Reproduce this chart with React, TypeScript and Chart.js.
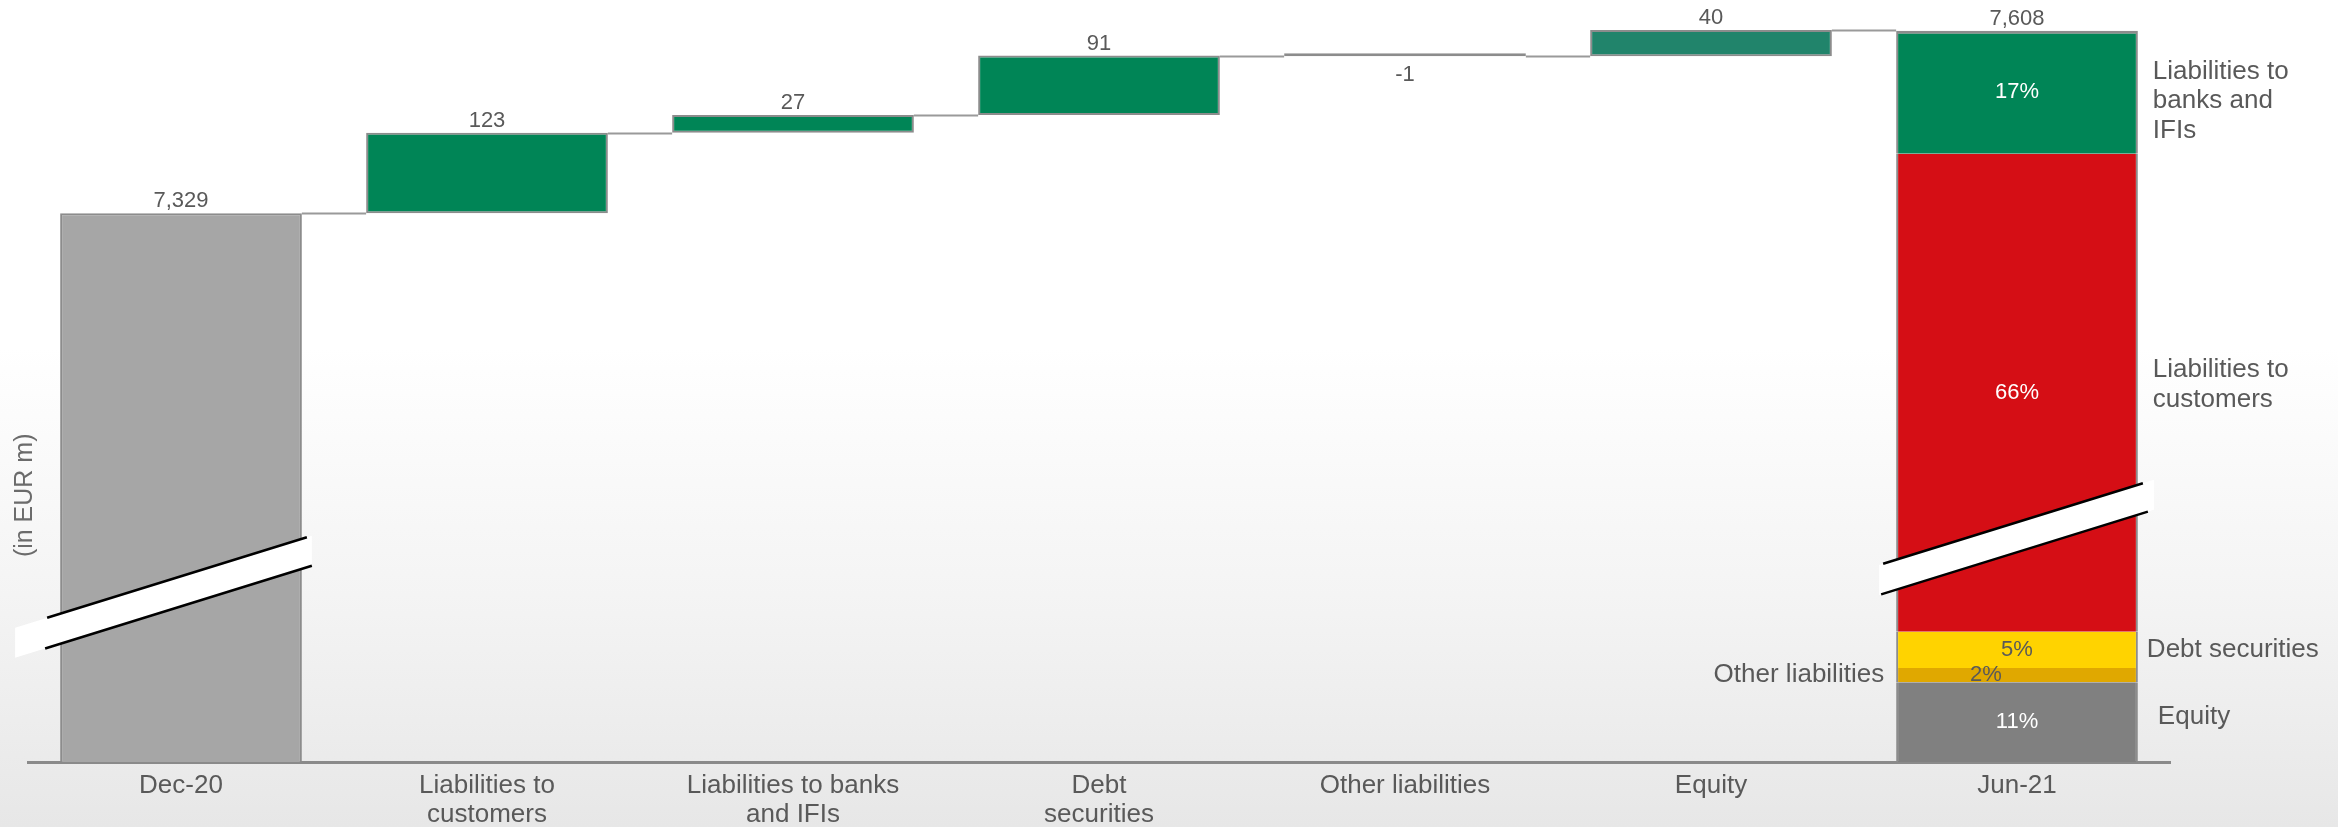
import React, { useEffect, useRef } from "react";
import { Chart, registerables } from "chart.js";

Chart.register(...registerables);

// ---------- data ----------
const categories: string[][] = [
  ["Dec-20"],
  ["Liabilities to", "customers"],
  ["Liabilities to banks", "and IFIs"],
  ["Debt", "securities"],
  ["Other liabilities"],
  ["Equity"],
  ["Jun-21"],
];
const startValue = 7329;
const deltaValues = [123, 27, 91, -1, 40];
const endValue = 7608;

const shareNames = ["Equity", "Other liabilities", "Debt securities", "Liabilities to customers", "Liabilities to banks and IFIs"];
const sharePercents = [11, 2, 5, 66, 17];
const shareSideLabels: string[][] = [
  ["Equity"],
  ["Other liabilities"],
  ["Debt securities"],
  ["Liabilities to", "customers"],
  ["Liabilities to", "banks and", "IFIs"],
];
const yTitle = "(in EUR m)";

// ---------- scale / style settings ----------
const axisMin = 6490;
const axisMax = 7655;
const FONT = "'Liberation Sans', Arial, sans-serif";
const TEXT = "#595959";
const BORDER = "#8c8c8c";
const greyBar = "#a6a6a6";
const greenBar = "#008556";
const tealBar = "#21846b";
const shareColors = ["#808080", "#e0a800", "#ffd300", "#d50e15", "#008556"];
const sharePctColors = ["#ffffff", "#595959", "#595959", "#ffffff", "#ffffff"];

// built tables
const running: number[] = [startValue];
deltaValues.forEach((d) => running.push(running[running.length - 1] + d));
const waterfallData: any[] = [startValue];
deltaValues.forEach((d, i) => waterfallData.push([running[i], running[i + 1]]));
waterfallData.push(null);
const waterfallColors = [greyBar, greenBar, greenBar, greenBar, BORDER, tealBar, "rgba(0,0,0,0)"];
const waterfallTexts = [startValue, ...deltaValues].map((v) => v.toLocaleString("en-US"));
const shareTotal = sharePercents.reduce((a, b) => a + b, 0);
const shareAxisMax = (shareTotal * (axisMax - axisMin)) / (endValue - axisMin);

function drawBreak(ctx: CanvasRenderingContext2D, cx: number, cy: number, hw: number, extL: number, extR: number) {
  const slope = -0.31;
  const half = 15;
  const yU = (x: number) => cy - half + slope * (x - cx);
  const yL = (x: number) => cy + half + slope * (x - cx);
  const xL = cx - hw - extL;
  const xR = cx + hw + extR;
  ctx.save();
  ctx.fillStyle = "#ffffff";
  ctx.beginPath();
  ctx.moveTo(xL, yU(xL));
  ctx.lineTo(xR, yU(xR));
  ctx.lineTo(xR, yL(xR));
  ctx.lineTo(xL, yL(xL));
  ctx.closePath();
  ctx.fill();
  ctx.strokeStyle = "#000000";
  ctx.lineWidth = 2.5;
  ctx.beginPath();
  let a = cx - hw - 13, b = cx + hw + 5;
  ctx.moveTo(a, yU(a));
  ctx.lineTo(b, yU(b));
  a = cx - hw - 15; b = cx + hw + 10;
  ctx.moveTo(a, yL(a));
  ctx.lineTo(b, yL(b));
  ctx.stroke();
  ctx.restore();
}

const decorPlugin = {
  id: "decor",
  beforeDatasetsDraw(chart: any) {
    const ctx = chart.ctx;
    const y = chart.scales.y;
    const wf = chart.getDatasetMeta(0).data;
    const topShare = chart.getDatasetMeta(shareNames.length).data[categories.length - 1];
    ctx.save();
    ctx.strokeStyle = "#9a9a9a";
    ctx.lineWidth = 2;
    ctx.beginPath();
    for (let i = 0; i < running.length; i++) {
      const el = wf[i];
      const next = i + 1 < running.length ? wf[i + 1] : topShare;
      const x1 = el.x + el.width / 2;
      const x2 = next.x - next.width / 2;
      const py = Math.round(y.getPixelForValue(running[i])) + 0.5;
      ctx.moveTo(x1, py);
      ctx.lineTo(x2, py);
    }
    ctx.stroke();
    ctx.restore();
  },
  afterDatasetsDraw(chart: any) {
    const ctx = chart.ctx;
    const area = chart.chartArea;
    const h = area.bottom - area.top;
    const wf = chart.getDatasetMeta(0).data;
    const last = categories.length - 1;
    const shareEls = shareNames.map((_, i) => chart.getDatasetMeta(i + 1).data[last]);

    // axis break marks
    drawBreak(ctx, wf[0].x, area.bottom - h * 0.224, wf[0].width / 2, 45, 10);
    drawBreak(ctx, shareEls[0].x, area.bottom - h * 0.295, shareEls[0].width / 2, 17, 16);

    ctx.save();
    // value labels
    ctx.font = `22px ${FONT}`;
    ctx.fillStyle = TEXT;
    ctx.textAlign = "center";
    for (let i = 0; i < running.length; i++) {
      const el = wf[i];
      const top = Math.min(el.y, el.base);
      const bottom = Math.max(el.y, el.base);
      const v = i === 0 ? startValue : deltaValues[i - 1];
      if (v >= 0) {
        ctx.textBaseline = "alphabetic";
        ctx.fillText(waterfallTexts[i], el.x, top - 6);
      } else {
        ctx.textBaseline = "top";
        ctx.fillText(waterfallTexts[i], el.x, bottom + 8);
      }
    }
    const topEl = shareEls[shareEls.length - 1];
    ctx.textBaseline = "alphabetic";
    ctx.fillText(endValue.toLocaleString("en-US"), topEl.x, topEl.y - 6);

    // percentage labels inside Jun-21 bar
    ctx.textBaseline = "middle";
    shareEls.forEach((el: any, i: number) => {
      const cy = (el.y + el.base) / 2;
      const dx = i === 1 ? -31 : 0;
      ctx.fillStyle = sharePctColors[i];
      ctx.fillText(`${sharePercents[i]}%`, el.x + dx, cy);
    });

    // side labels
    const layout = [
      { side: "right", dx: 20, dy: -5 },
      { side: "left", dx: -12, dy: 0 },
      { side: "right", dx: 9, dy: 0 },
      { side: "right", dx: 15, dy: -8 },
      { side: "right", dx: 15, dy: 9 },
    ];
    ctx.font = `26px ${FONT}`;
    ctx.fillStyle = TEXT;
    const lh = 29.5;
    shareEls.forEach((el: any, i: number) => {
      const L = layout[i];
      const lines = shareSideLabels[i];
      const cy = (el.y + el.base) / 2 + L.dy;
      const x = L.side === "right" ? el.x + el.width / 2 + L.dx : el.x - el.width / 2 + L.dx;
      ctx.textAlign = L.side === "right" ? "left" : "right";
      lines.forEach((t, k) => {
        ctx.fillText(t, x, cy + (k - (lines.length - 1) / 2) * lh);
      });
    });

    // y-axis title
    ctx.translate(area.left - 3, area.top + h * 0.65);
    ctx.rotate(-Math.PI / 2);
    ctx.textAlign = "center";
    ctx.textBaseline = "middle";
    ctx.font = `25px ${FONT}`;
    ctx.fillStyle = "#6b6b6b";
    ctx.fillText(yTitle, 0, 0);
    ctx.restore();
  },
};

export default function App() {
  const ref = useRef<HTMLCanvasElement | null>(null);

  useEffect(() => {
    if (!ref.current) return;
    const datasets: any[] = [
      {
        label: "Waterfall",
        data: waterfallData,
        backgroundColor: waterfallColors,
        borderColor: BORDER,
        borderWidth: 2,
        borderSkipped: false,
        minBarLength: 3,
        grouped: false,
        barPercentage: 0.79,
        categoryPercentage: 1,
        yAxisID: "y",
      },
      ...sharePercents.map((p, i) => ({
        label: shareNames[i],
        data: categories.map((_, k) => (k === categories.length - 1 ? p : null)),
        backgroundColor: shareColors[i],
        borderColor: BORDER,
        borderWidth: { left: 2, right: 2, top: i === sharePercents.length - 1 ? 3 : 0, bottom: 0 },
        borderSkipped: false,
        grouped: false,
        barPercentage: 0.79,
        categoryPercentage: 1,
        yAxisID: "yShare",
      })),
    ];

    const chart = new Chart(ref.current, {
      type: "bar",
      data: { labels: categories as any, datasets },
      options: {
        responsive: false,
        animation: false,
        devicePixelRatio: 1,
        layout: { padding: { left: 28, right: 168, top: 0, bottom: 0 } },
        plugins: { legend: { display: false }, tooltip: { enabled: false } },
        scales: {
          x: {
            grid: { display: false, drawTicks: false },
            border: { display: true, color: "#8a8a8a", width: 3 },
            ticks: {
              color: TEXT,
              font: { family: FONT, size: 26, lineHeight: 1.1 },
              padding: 10,
              maxRotation: 0,
              autoSkip: false,
            },
            afterFit: (scale: any) => {
              scale.height = 65;
            },
          },
          y: { type: "linear", display: false, min: axisMin, max: axisMax },
          yShare: { type: "linear", display: false, stacked: true, min: 0, max: shareAxisMax },
        },
      } as any,
      plugins: [decorPlugin],
    });
    return () => chart.destroy();
  }, []);

  return (
    <div
      style={{
        position: "fixed",
        left: 0,
        top: 0,
        width: 2338,
        height: 827,
        background: "linear-gradient(180deg, #ffffff 0%, #ffffff 42%, #f4f4f4 72%, #e7e7e7 100%)",
      }}
    >
      <canvas ref={ref} width={2338} height={827} style={{ display: "block" }} />
    </div>
  );
}
